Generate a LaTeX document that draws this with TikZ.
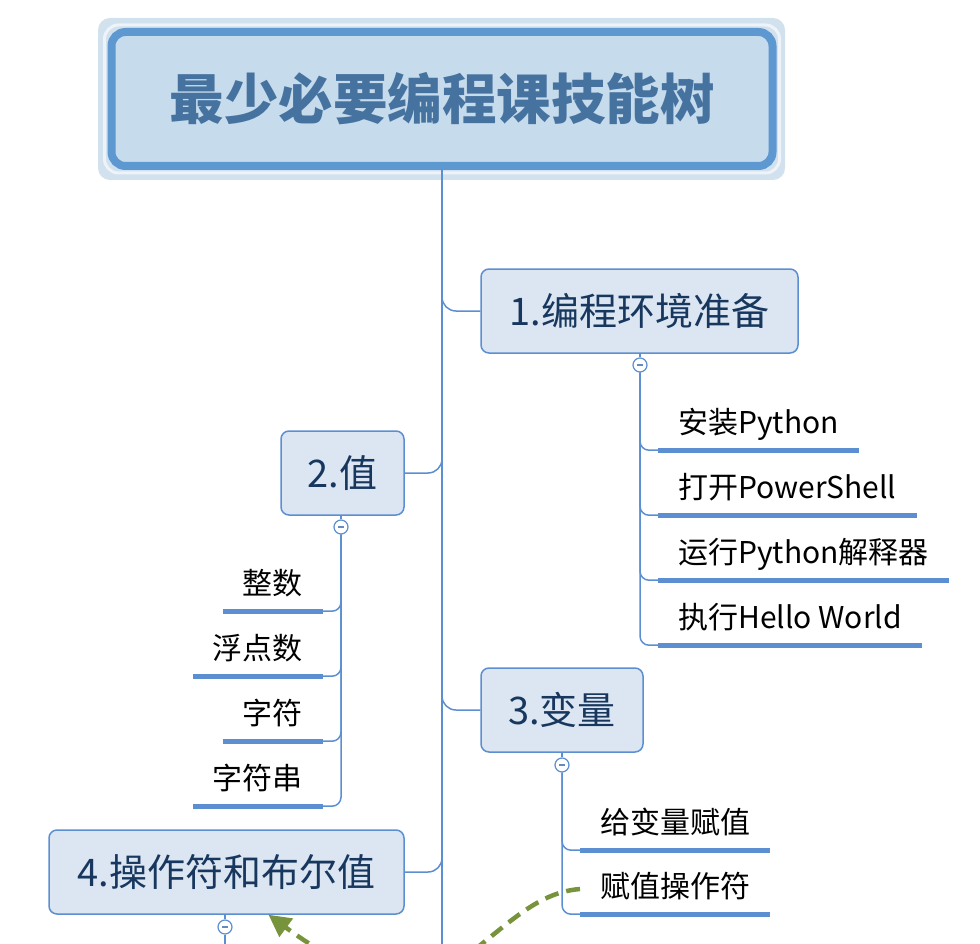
\documentclass[tikz,border=0pt]{standalone}
\usepackage{fontspec}
\setmainfont{Noto Sans CJK SC}
\usetikzlibrary{arrows.meta}
\definecolor{branchc}{RGB}{91,143,209}
\definecolor{nodefill}{RGB}{220,230,242}
\definecolor{nodetext}{RGB}{23,55,94}
\definecolor{titlefill}{RGB}{198,219,235}
\definecolor{titleborder}{RGB}{94,152,208}
\definecolor{halo}{RGB}{209,225,237}
\definecolor{titletext}{RGB}{70,114,160}
\definecolor{greenc}{RGB}{119,147,60}
\tikzset{
  branch/.style={draw=branchc, line width=1.5pt},
  topic/.style={draw=branchc, line width=1.5pt, fill=nodefill, rounded corners=8pt,
    minimum height=84pt, inner sep=0pt, text=nodetext, font=\fontsize{38}{40}\selectfont},
  leaf/.style={inner xsep=20pt, inner ysep=9pt, text height=24pt, text depth=8pt,
    text=black, font=\fontsize{30}{32}\selectfont},
  uline/.style={draw=branchc, line width=5pt},
  collapse/.style={circle, draw=branchc, line width=1.2pt, fill=white, minimum size=14pt, inner sep=0pt,
    path picture={\draw[line width=1.2pt, draw=branchc!70!gray] ([xshift=-3pt]path picture bounding box.center) -- ([xshift=3pt]path picture bounding box.center);}},
  dasharrow/.style={draw=greenc, line width=4.5pt, dash pattern=on 14pt off 8pt,
    -{Triangle[length=22pt,width=22pt]}},
}
\begin{document}
\begin{tikzpicture}[x=1pt,y=-1pt]
\useasboundingbox (0,0) rectangle (980,944);
\clip (0,0) rectangle (980,944);
% title
\node[fill=halo, rounded corners=12pt, minimum width=687pt, minimum height=162pt, inner sep=0pt] (halo) at (441.5,99) {};
\node[draw=white!60!halo, line width=3pt, rounded corners=14pt, minimum width=675pt, minimum height=148pt, inner sep=0pt] (haloin) at (442,99) {};
\node[draw=titleborder, line width=8pt, fill=titlefill, rounded corners=14pt, minimum width=661pt, minimum height=134pt, inner sep=0pt,
  text=titletext, font=\fontsize{54.5}{56}\selectfont\bfseries] (title) at (442,99) {最少必要编程课技能树};
\coordinate (bot) at (442,944);
\draw[branch] (title.south) -- (bot);
% topics
\node[topic, minimum width=317pt] (n1) at (639.5,311) {1.编程环境准备};
\node[topic, minimum width=123pt] (n2) at (342.5,473) {2.值};
\node[topic, minimum width=162pt] (n3) at (562,710) {3.变量};
\node[topic, minimum width=355pt] (n4) at (226.5,872) {4.操作符和布尔值};
\draw[branch, rounded corners=14pt] (title.south) |- (n1.west);
\draw[branch, rounded corners=14pt] (title.south) |- (n2.east);
\draw[branch, rounded corners=14pt] (title.south) |- (n3.west);
\draw[branch, rounded corners=14pt] (title.south) |- (n4.east);
% collapse buttons
\node[collapse] (k1) at (640,365) {};
\node[collapse] (k2) at (341,527) {};
\node[collapse] (k3) at (562,765) {};
\node[collapse] (k4) at (225,927) {};
\draw[branch] (n1.south -| k1) -- (k1.north);
\draw[branch] (n2.south -| k2) -- (k2.north);
\draw[branch] (n3.south -| k3) -- (k3.north);
\draw[branch] (n4.south -| k4) -- (k4.north);
\coordinate (bot4) at (225,944);
\draw[branch] (k4.south) -- (bot4);
% leaves of 1
\node[leaf, anchor=base west] (a1) at (658,433) {安装Python};
\node[leaf, anchor=base west] (a2) at (658,498) {打开PowerShell};
\node[leaf, anchor=base west] (a3) at (658,563) {运行Python解释器};
\node[leaf, anchor=base west] (a4) at (658,628) {执行Hello World};
\foreach \n in {a1,a2,a3,a4}{
  \draw[uline] (\n.south west) -- (\n.south east);
  \draw[branch, rounded corners=9pt] (k1.south) |- (\n.south west);
}
% leaves of 2
\node[leaf, anchor=base east] (b1) at (323,594) {整数};
\node[leaf, anchor=base east] (b2) at (323,659) {浮点数};
\node[leaf, anchor=base east] (b3) at (323,724) {字符};
\node[leaf, anchor=base east] (b4) at (323,789) {字符串};
\foreach \n in {b1,b2,b3,b4}{
  \draw[uline] (\n.south west) -- (\n.south east);
  \draw[branch, rounded corners=9pt] (k2.south) |- (\n.south east);
}
% leaves of 3
\node[leaf, anchor=base west] (c1) at (580,833) {给变量赋值};
\node[leaf, anchor=base west] (c2) at (580,897) {赋值操作符};
\foreach \n in {c1,c2}{
  \draw[uline] (\n.south west) -- (\n.south east);
  \draw[branch, rounded corners=9pt] (k3.south) |- (\n.south west);
}
% dashed relation
\draw[dasharrow] (c2.west) .. controls (530,893) and (500,935) .. (440,975)
  .. controls (400,1000) and (330,960) .. ([xshift=42pt]n4.south);
\end{tikzpicture}
\end{document}
